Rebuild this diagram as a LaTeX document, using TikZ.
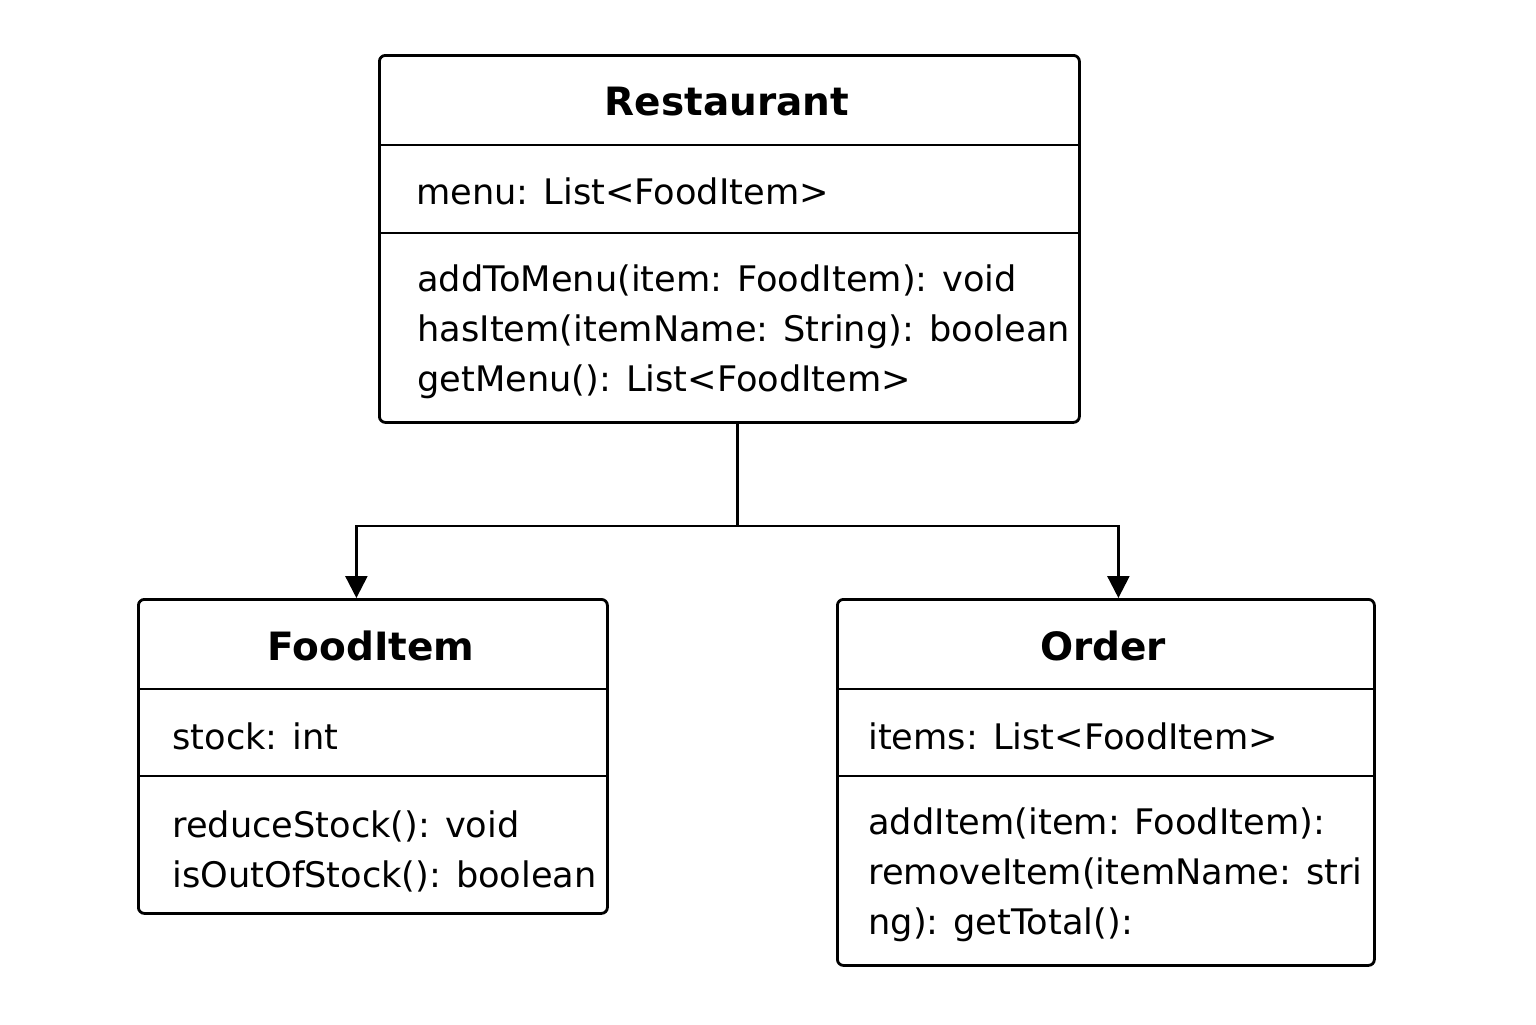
\documentclass[tikz,border=0pt]{standalone}
\usepackage{fontspec}
\setmainfont{DejaVu Sans}
\usetikzlibrary{arrows.meta,positioning}

\begin{document}
\begin{tikzpicture}[x=0.5pt,y=-0.5pt]
    \tikzset{classbox/.style={draw,line width=1.4pt,rounded corners=3pt,anchor=north west,inner sep=0pt},
      classname/.style={inner sep=0pt,font=\fontsize{19.5}{25}\selectfont\bfseries},
      members/.style={anchor=west,inner sep=0pt,align=left,font=\fontsize{17.6}{25}\selectfont},
      sep/.style={line width=1.3pt},
      conn/.style={line width=1.25pt,-{Triangle[length=11pt,width=11pt]}}}
\useasboundingbox (0,0) rectangle (1536,1024);

% Restaurant
\node[classbox,minimum width=350pt,minimum height=183.5pt] (Rest) at (378,54) {};
\node[classname] (RestName) at (727,102) {Restaurant};
\draw[sep] (Rest.west |- 0,145) -- (Rest.east |- 0,145);
\draw[sep] (Rest.west |- 0,233) -- (Rest.east |- 0,233);
\node[members] (RestAttr) at (416,191) {menu: List<FoodItem>};
\node[members] (RestOps) at (417,332) {addToMenu(item: FoodItem): void\\
  hasItem(itemName: String): boolean\\
  getMenu(): List<FoodItem>};

% FoodItem
\node[classbox,minimum width=234.5pt,minimum height=157pt] (Food) at (137,598) {};
\node[classname] (FoodName) at (371,646) {FoodItem};
\draw[sep] (Food.west |- 0,689) -- (Food.east |- 0,689);
\draw[sep] (Food.west |- 0,776) -- (Food.east |- 0,776);
\node[members] (FoodAttr) at (172,736) {stock: int};
\node[members] (FoodOps) at (172,851) {reduceStock(): void\\
  isOutOfStock(): boolean};

% Order
\node[classbox,minimum width=268.5pt,minimum height=183pt] (Ord) at (836,598) {};
\node[classname] (OrdName) at (1103,646) {Order};
\draw[sep] (Ord.west |- 0,689) -- (Ord.east |- 0,689);
\draw[sep] (Ord.west |- 0,776) -- (Ord.east |- 0,776);
\node[members] (OrdAttr) at (868,736) {items: List<FoodItem>};
\node[members] (OrdOps) at (868,875) {addItem(item: FoodItem):\\
  removeItem(itemName: stri\\
  ng): getTotal():};

 \draw[conn] ([xshift=4pt]Rest.south) -- ++(0,102) -| ([xshift=-8.25pt]Food.north);
 \draw[conn] ([xshift=4pt]Rest.south) -- ++(0,102) -| ([xshift=6.25pt]Ord.north);
\end{tikzpicture}
\end{document}
